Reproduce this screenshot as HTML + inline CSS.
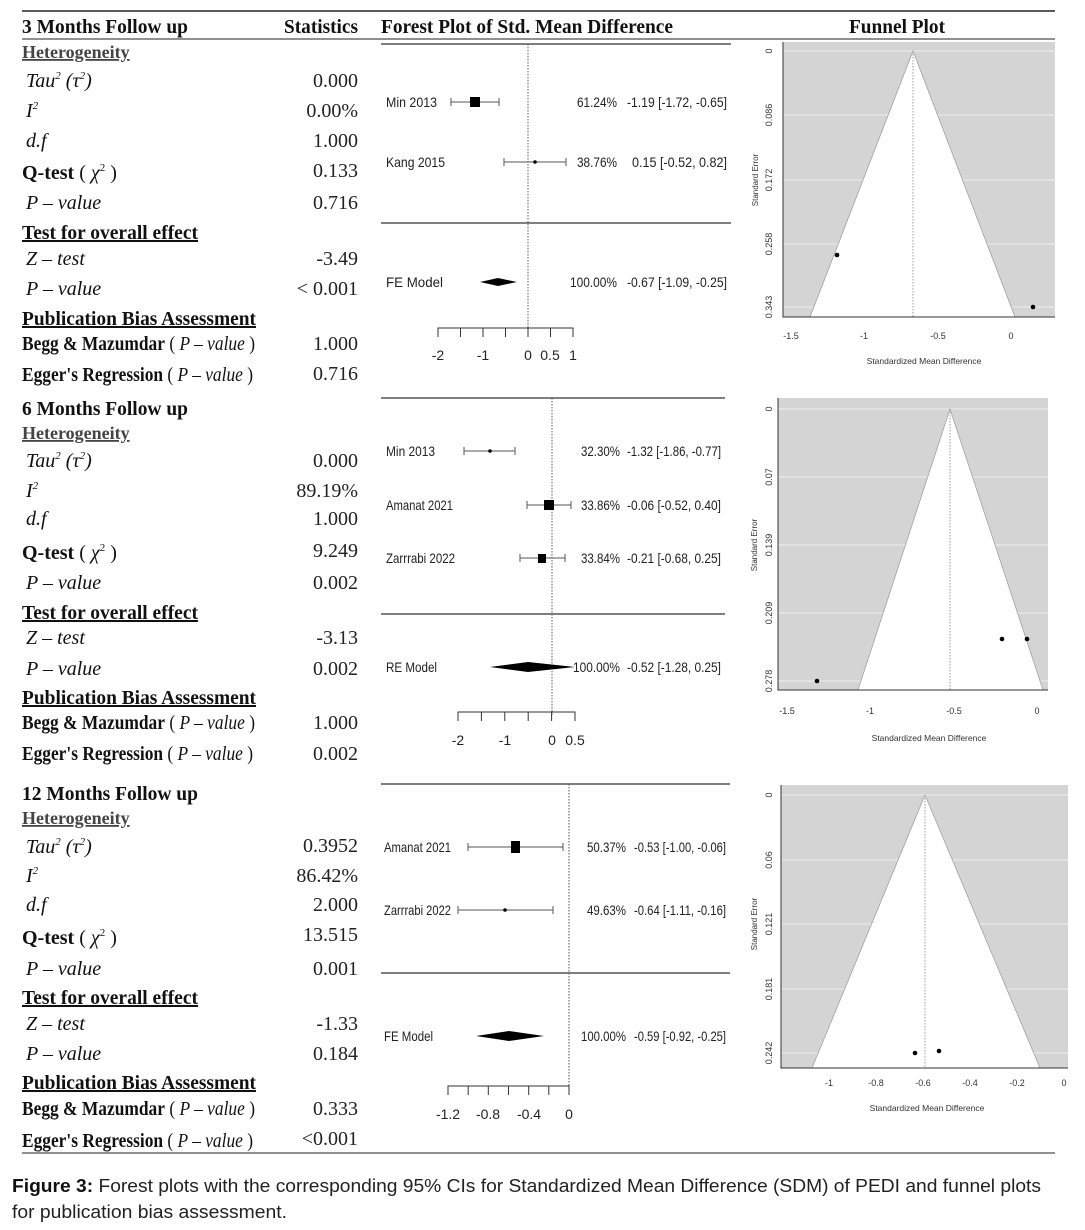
<!DOCTYPE html>
<html><head><meta charset="utf-8"><style>
html,body{margin:0;padding:0;background:#fff}
svg{display:block}
.s{font-family:"Liberation Serif",serif;font-size:20px;fill:#111}
.b{font-weight:bold}
.i{font-style:italic}
.v{font-family:"Liberation Serif",serif;font-size:20px;fill:#222;text-anchor:end}
.f{font-family:"Liberation Sans",sans-serif;font-size:14px;fill:#222}
.e{text-anchor:end}
.t{font-family:"Liberation Sans",sans-serif;font-size:9px;fill:#333}
.cap{font-family:"Liberation Sans",sans-serif;font-size:18px;fill:#222}
</style></head><body>
<svg width="1085" height="1230" viewBox="0 0 1085 1230" xmlns="http://www.w3.org/2000/svg">
<rect width="1085" height="1230" fill="#fff"/>
<line x1="22" y1="11" x2="1055" y2="11" stroke="#222" stroke-width="1.5"/>
<line x1="22" y1="39" x2="1055" y2="39" stroke="#222" stroke-width="1"/>
<text x="22" y="33" class="s b" textLength="166" lengthAdjust="spacingAndGlyphs">3 Months Follow up</text>
<text x="284" y="33" class="s b" textLength="74" lengthAdjust="spacingAndGlyphs">Statistics</text>
<text x="381" y="33" class="s b" textLength="292" lengthAdjust="spacingAndGlyphs">Forest Plot of Std. Mean Difference</text>
<text x="849" y="33" class="s b" textLength="96" lengthAdjust="spacingAndGlyphs">Funnel Plot</text>

<!-- Left column section 1 -->
<g>
<text x="22" y="58" class="s b" style="font-size:18px;fill:#444" text-decoration="underline">Heterogeneity</text>
<text x="26" y="87" class="s i">Tau<tspan dy="-8" font-size="11">2</tspan><tspan dy="8"> (</tspan><tspan>τ</tspan><tspan dy="-8" font-size="11">2</tspan><tspan dy="8">)</tspan></text>
<text x="26" y="117" class="s i">I<tspan dy="-8" font-size="11">2</tspan></text>
<text x="26" y="147" class="s i">d.f</text>
<text x="22" y="179" class="s"><tspan class="b">Q-test</tspan> ( <tspan class="i">χ</tspan><tspan dy="-8" font-size="11">2</tspan><tspan dy="8"> )</tspan></text>
<text x="26" y="209" class="s i">P – value</text>
<text x="22" y="239" class="s b" text-decoration="underline" textLength="176" lengthAdjust="spacingAndGlyphs">Test for overall effect</text>
<text x="26" y="265" class="s i">Z – test</text>
<text x="26" y="295" class="s i">P – value</text>
<text x="22" y="325" class="s b" text-decoration="underline" textLength="234" lengthAdjust="spacingAndGlyphs">Publication Bias Assessment</text>
<text x="22" y="350" class="s" textLength="233" lengthAdjust="spacingAndGlyphs"><tspan class="b">Begg &amp; Mazumdar</tspan> ( <tspan class="i">P – value</tspan> )</text>
<text x="22" y="381" class="s" textLength="231" lengthAdjust="spacingAndGlyphs"><tspan class="b">Egger's Regression</tspan> ( <tspan class="i">P – value</tspan> )</text>
<text x="358" y="87" class="v">0.000</text>
<text x="358" y="117" class="v">0.00%</text>
<text x="358" y="147" class="v">1.000</text>
<text x="358" y="177" class="v">0.133</text>
<text x="358" y="209" class="v">0.716</text>
<text x="358" y="265" class="v">-3.49</text>
<text x="358" y="295" class="v">&lt; 0.001</text>
<text x="358" y="350" class="v">1.000</text>
<text x="358" y="380" class="v">0.716</text>
</g>

<!-- section 2 -->
<g>
<text x="22" y="415" class="s b" textLength="166" lengthAdjust="spacingAndGlyphs">6 Months Follow up</text>
<text x="22" y="439" class="s b" style="font-size:18px;fill:#444" text-decoration="underline">Heterogeneity</text>
<text x="26" y="467" class="s i">Tau<tspan dy="-8" font-size="11">2</tspan><tspan dy="8"> (</tspan><tspan>τ</tspan><tspan dy="-8" font-size="11">2</tspan><tspan dy="8">)</tspan></text>
<text x="26" y="497" class="s i">I<tspan dy="-8" font-size="11">2</tspan></text>
<text x="26" y="525" class="s i">d.f</text>
<text x="22" y="559" class="s"><tspan class="b">Q-test</tspan> ( <tspan class="i">χ</tspan><tspan dy="-8" font-size="11">2</tspan><tspan dy="8"> )</tspan></text>
<text x="26" y="589" class="s i">P – value</text>
<text x="22" y="619" class="s b" text-decoration="underline" textLength="176" lengthAdjust="spacingAndGlyphs">Test for overall effect</text>
<text x="26" y="644" class="s i">Z – test</text>
<text x="26" y="675" class="s i">P – value</text>
<text x="22" y="704" class="s b" text-decoration="underline" textLength="234" lengthAdjust="spacingAndGlyphs">Publication Bias Assessment</text>
<text x="22" y="729" class="s" textLength="233" lengthAdjust="spacingAndGlyphs"><tspan class="b">Begg &amp; Mazumdar</tspan> ( <tspan class="i">P – value</tspan> )</text>
<text x="22" y="760" class="s" textLength="231" lengthAdjust="spacingAndGlyphs"><tspan class="b">Egger's Regression</tspan> ( <tspan class="i">P – value</tspan> )</text>
<text x="358" y="467" class="v">0.000</text>
<text x="358" y="497" class="v">89.19%</text>
<text x="358" y="525" class="v">1.000</text>
<text x="358" y="557" class="v">9.249</text>
<text x="358" y="589" class="v">0.002</text>
<text x="358" y="644" class="v">-3.13</text>
<text x="358" y="675" class="v">0.002</text>
<text x="358" y="729" class="v">1.000</text>
<text x="358" y="760" class="v">0.002</text>
</g>

<!-- section 3 -->
<g>
<text x="22" y="800" class="s b" textLength="176" lengthAdjust="spacingAndGlyphs">12 Months Follow up</text>
<text x="22" y="824" class="s b" style="font-size:18px;fill:#444" text-decoration="underline">Heterogeneity</text>
<text x="26" y="853" class="s i">Tau<tspan dy="-8" font-size="11">2</tspan><tspan dy="8"> (</tspan><tspan>τ</tspan><tspan dy="-8" font-size="11">2</tspan><tspan dy="8">)</tspan></text>
<text x="26" y="882" class="s i">I<tspan dy="-8" font-size="11">2</tspan></text>
<text x="26" y="911" class="s i">d.f</text>
<text x="22" y="944" class="s"><tspan class="b">Q-test</tspan> ( <tspan class="i">χ</tspan><tspan dy="-8" font-size="11">2</tspan><tspan dy="8"> )</tspan></text>
<text x="26" y="975" class="s i">P – value</text>
<text x="22" y="1004" class="s b" text-decoration="underline" textLength="176" lengthAdjust="spacingAndGlyphs">Test for overall effect</text>
<text x="26" y="1030" class="s i">Z – test</text>
<text x="26" y="1060" class="s i">P – value</text>
<text x="22" y="1089" class="s b" text-decoration="underline" textLength="234" lengthAdjust="spacingAndGlyphs">Publication Bias Assessment</text>
<text x="22" y="1115" class="s" textLength="233" lengthAdjust="spacingAndGlyphs"><tspan class="b">Begg &amp; Mazumdar</tspan> ( <tspan class="i">P – value</tspan> )</text>
<text x="22" y="1147" class="s" textLength="231" lengthAdjust="spacingAndGlyphs"><tspan class="b">Egger's Regression</tspan> ( <tspan class="i">P – value</tspan> )</text>
<text x="358" y="852" class="v">0.3952</text>
<text x="358" y="882" class="v">86.42%</text>
<text x="358" y="911" class="v">2.000</text>
<text x="358" y="941" class="v">13.515</text>
<text x="358" y="975" class="v">0.001</text>
<text x="358" y="1030" class="v">-1.33</text>
<text x="358" y="1060" class="v">0.184</text>
<text x="358" y="1115" class="v">0.333</text>
<text x="358" y="1145" class="v">&lt;0.001</text>
</g>
<line x1="22" y1="1153" x2="1055" y2="1153" stroke="#222" stroke-width="1"/>

<!-- Forest 1 -->
<g stroke="#555" fill="none">
<line x1="381" y1="44" x2="731" y2="44" stroke-width="1.5"/>
<line x1="381" y1="223" x2="731" y2="223" stroke-width="1.5"/>
<line x1="528" y1="44" x2="528" y2="328" stroke-dasharray="1.5,1.5" stroke-width="1"/>
<line x1="451" y1="102" x2="499" y2="102"/><line x1="451" y1="98" x2="451" y2="106"/><line x1="499" y1="98" x2="499" y2="106"/>
<line x1="504" y1="162" x2="566" y2="162"/><line x1="504" y1="158" x2="504" y2="166"/><line x1="566" y1="158" x2="566" y2="166"/>
<path d="M438 337V328H573V337M460.5 328V337M483 328V337M505.5 328V337M528 328V337M550.5 328V337" stroke="#333"/>
</g>
<rect x="470" y="97" width="10" height="10" fill="#000"/>
<circle cx="535" cy="162" r="1.8" fill="#000"/>
<polygon points="480,282 498,278 517,282 498,286" fill="#000"/>
<text x="386" y="107" class="f" textLength="51" lengthAdjust="spacingAndGlyphs">Min 2013</text>
<text x="386" y="167" class="f" textLength="59" lengthAdjust="spacingAndGlyphs">Kang 2015</text>
<text x="386" y="287" class="f" textLength="57" lengthAdjust="spacingAndGlyphs">FE Model</text>
<text x="577" y="107" class="f" textLength="40" lengthAdjust="spacingAndGlyphs">61.24%</text><text x="627" y="107" class="f" textLength="100" lengthAdjust="spacingAndGlyphs">-1.19 [-1.72, -0.65]</text>
<text x="577" y="167" class="f" textLength="40" lengthAdjust="spacingAndGlyphs">38.76%</text><text x="632" y="167" class="f" textLength="95" lengthAdjust="spacingAndGlyphs">0.15 [-0.52,  0.82]</text>
<text x="570" y="287" class="f" textLength="47" lengthAdjust="spacingAndGlyphs">100.00%</text><text x="627" y="287" class="f" textLength="100" lengthAdjust="spacingAndGlyphs">-0.67 [-1.09, -0.25]</text>
<g class="f" text-anchor="middle"><text x="438" y="360">-2</text><text x="483" y="360">-1</text><text x="528" y="360">0</text><text x="550" y="360">0.5</text><text x="573" y="360">1</text></g>

<!-- Forest 2 -->
<g stroke="#555" fill="none">
<line x1="381" y1="398" x2="725" y2="398" stroke-width="1.5"/>
<line x1="381" y1="614" x2="725" y2="614" stroke-width="1.5"/>
<line x1="552" y1="398" x2="552" y2="715" stroke-dasharray="1.5,1.5" stroke-width="1"/>
<line x1="464" y1="451" x2="515" y2="451"/><line x1="464" y1="447" x2="464" y2="455"/><line x1="515" y1="447" x2="515" y2="455"/>
<line x1="527" y1="505" x2="571" y2="505"/><line x1="527" y1="501" x2="527" y2="509"/><line x1="571" y1="501" x2="571" y2="509"/>
<line x1="520" y1="558" x2="565" y2="558"/><line x1="520" y1="554" x2="520" y2="562"/><line x1="565" y1="554" x2="565" y2="562"/>
<path d="M458 721V712H575V721M481.4 712V721M504.8 712V721M528.2 712V721M551.6 712V721" stroke="#333"/>
</g>
<circle cx="490" cy="451" r="1.8" fill="#000"/>
<rect x="544" y="500" width="10" height="10" fill="#000"/>
<rect x="538" y="554" width="8" height="9" fill="#000"/>
<polygon points="490,667 528,662 575,667 528,672" fill="#000"/>
<text x="386" y="456" class="f" textLength="49" lengthAdjust="spacingAndGlyphs">Min 2013</text>
<text x="386" y="510" class="f" textLength="67" lengthAdjust="spacingAndGlyphs">Amanat 2021</text>
<text x="386" y="563" class="f" textLength="69" lengthAdjust="spacingAndGlyphs">Zarrrabi 2022</text>
<text x="386" y="672" class="f" textLength="51" lengthAdjust="spacingAndGlyphs">RE Model</text>
<text x="581" y="456" class="f" textLength="39" lengthAdjust="spacingAndGlyphs">32.30%</text><text x="627" y="456" class="f" textLength="94" lengthAdjust="spacingAndGlyphs">-1.32 [-1.86, -0.77]</text>
<text x="581" y="510" class="f" textLength="39" lengthAdjust="spacingAndGlyphs">33.86%</text><text x="627" y="510" class="f" textLength="94" lengthAdjust="spacingAndGlyphs">-0.06 [-0.52,  0.40]</text>
<text x="581" y="563" class="f" textLength="39" lengthAdjust="spacingAndGlyphs">33.84%</text><text x="627" y="563" class="f" textLength="94" lengthAdjust="spacingAndGlyphs">-0.21 [-0.68,  0.25]</text>
<text x="573" y="672" class="f" textLength="47" lengthAdjust="spacingAndGlyphs">100.00%</text><text x="627" y="672" class="f" textLength="94" lengthAdjust="spacingAndGlyphs">-0.52 [-1.28,  0.25]</text>
<g class="f" text-anchor="middle"><text x="458" y="745">-2</text><text x="505" y="745">-1</text><text x="552" y="745">0</text><text x="575" y="745">0.5</text></g>

<!-- Forest 3 -->
<g stroke="#555" fill="none">
<line x1="381" y1="784" x2="730" y2="784" stroke-width="1.5"/>
<line x1="381" y1="973" x2="730" y2="973" stroke-width="1.5"/>
<line x1="569" y1="784" x2="569" y2="1087" stroke-dasharray="1.5,1.5" stroke-width="1"/>
<line x1="468" y1="847" x2="563" y2="847"/><line x1="468" y1="843" x2="468" y2="851"/><line x1="563" y1="843" x2="563" y2="851"/>
<line x1="458" y1="910" x2="553" y2="910"/><line x1="458" y1="906" x2="458" y2="914"/><line x1="553" y1="906" x2="553" y2="914"/>
<path d="M448 1095V1086H569V1095M468.2 1086V1095M488.3 1086V1095M508.5 1086V1095M528.7 1086V1095M548.8 1086V1095" stroke="#333"/>
</g>
<rect x="511" y="841" width="9" height="12" fill="#000"/>
<circle cx="505" cy="910" r="1.8" fill="#000"/>
<polygon points="476,1036 509,1031 544,1036 509,1041" fill="#000"/>
<text x="384" y="852" class="f" textLength="67" lengthAdjust="spacingAndGlyphs">Amanat 2021</text>
<text x="384" y="915" class="f" textLength="67" lengthAdjust="spacingAndGlyphs">Zarrrabi 2022</text>
<text x="384" y="1041" class="f" textLength="49" lengthAdjust="spacingAndGlyphs">FE Model</text>
<text x="587" y="852" class="f" textLength="39" lengthAdjust="spacingAndGlyphs">50.37%</text><text x="634" y="852" class="f" textLength="92" lengthAdjust="spacingAndGlyphs">-0.53 [-1.00, -0.06]</text>
<text x="587" y="915" class="f" textLength="39" lengthAdjust="spacingAndGlyphs">49.63%</text><text x="634" y="915" class="f" textLength="92" lengthAdjust="spacingAndGlyphs">-0.64 [-1.11, -0.16]</text>
<text x="581" y="1041" class="f" textLength="45" lengthAdjust="spacingAndGlyphs">100.00%</text><text x="634" y="1041" class="f" textLength="92" lengthAdjust="spacingAndGlyphs">-0.59 [-0.92, -0.25]</text>
<g class="f" text-anchor="middle"><text x="448" y="1119">-1.2</text><text x="488" y="1119">-0.8</text><text x="529" y="1119">-0.4</text><text x="569" y="1119">0</text></g>

<!-- Funnel 1 -->
<rect x="783" y="42" width="272" height="275" fill="#d4d4d4"/>
<g stroke="#eee" stroke-width="1"><line x1="783" y1="51" x2="1055" y2="51"/><line x1="783" y1="115" x2="1055" y2="115"/><line x1="783" y1="180" x2="1055" y2="180"/><line x1="783" y1="244" x2="1055" y2="244"/><line x1="783" y1="307" x2="1055" y2="307"/></g>
<polygon points="913,51 810,317 1015,317" fill="#fff" stroke="#999" stroke-width="0.7"/>
<line x1="913" y1="51" x2="913" y2="317" stroke="#999" stroke-dasharray="1.5,1.5"/>
<path d="M783 42V317H1055" stroke="#333" fill="none"/>
<circle cx="837" cy="255" r="2.3" fill="#000"/><circle cx="1033" cy="307" r="2.3" fill="#000"/>
<g class="t" text-anchor="middle"><text x="791" y="339">-1.5</text><text x="864" y="339">-1</text><text x="938" y="339">-0.5</text><text x="1011" y="339">0</text><text x="924" y="364" font-size="8.5">Standardized Mean Difference</text></g>
<g class="t" text-anchor="middle"><text transform="translate(772,51) rotate(-90)">0</text><text transform="translate(772,115) rotate(-90)">0.086</text><text transform="translate(772,180) rotate(-90)">0.172</text><text transform="translate(772,244) rotate(-90)">0.258</text><text transform="translate(772,307) rotate(-90)">0.343</text><text transform="translate(758,180) rotate(-90)" font-size="8">Standard Error</text></g>

<!-- Funnel 2 -->
<rect x="778" y="398" width="270" height="292" fill="#d4d4d4"/>
<g stroke="#eee"><line x1="778" y1="409" x2="1048" y2="409"/><line x1="778" y1="477" x2="1048" y2="477"/><line x1="778" y1="545" x2="1048" y2="545"/><line x1="778" y1="613" x2="1048" y2="613"/><line x1="778" y1="681" x2="1048" y2="681"/></g>
<polygon points="950,409 858,690 1043,690" fill="#fff" stroke="#999" stroke-width="0.7"/>
<line x1="950" y1="409" x2="950" y2="690" stroke="#999" stroke-dasharray="1.5,1.5"/>
<path d="M778 398V690H1048" stroke="#333" fill="none"/>
<circle cx="817" cy="681" r="2.3" fill="#000"/><circle cx="1002" cy="639" r="2.3" fill="#000"/><circle cx="1027" cy="639" r="2.3" fill="#000"/>
<g class="t" text-anchor="middle"><text x="787" y="714">-1.5</text><text x="870" y="714">-1</text><text x="954" y="714">-0.5</text><text x="1037" y="714">0</text><text x="929" y="741" font-size="8.5">Standardized Mean Difference</text></g>
<g class="t" text-anchor="middle"><text transform="translate(772,409) rotate(-90)">0</text><text transform="translate(772,477) rotate(-90)">0.07</text><text transform="translate(772,545) rotate(-90)">0.139</text><text transform="translate(772,613) rotate(-90)">0.209</text><text transform="translate(772,681) rotate(-90)">0.278</text><text transform="translate(757,545) rotate(-90)" font-size="8">Standard Error</text></g>

<!-- Funnel 3 -->
<rect x="781" y="785" width="287" height="283" fill="#d4d4d4"/>
<g stroke="#eee"><line x1="781" y1="795" x2="1068" y2="795"/><line x1="781" y1="860" x2="1068" y2="860"/><line x1="781" y1="924" x2="1068" y2="924"/><line x1="781" y1="989" x2="1068" y2="989"/><line x1="781" y1="1053" x2="1068" y2="1053"/></g>
<polygon points="925,795 812,1068 1040,1068" fill="#fff" stroke="#999" stroke-width="0.7"/>
<line x1="925" y1="795" x2="925" y2="1068" stroke="#999" stroke-dasharray="1.5,1.5"/>
<path d="M781 785V1068H1068" stroke="#333" fill="none"/>
<circle cx="915" cy="1053" r="2.3" fill="#000"/><circle cx="939" cy="1051" r="2.3" fill="#000"/>
<g class="t" text-anchor="middle"><text x="829" y="1086">-1</text><text x="876" y="1086">-0.8</text><text x="923" y="1086">-0.6</text><text x="970" y="1086">-0.4</text><text x="1017" y="1086">-0.2</text><text x="1064" y="1086">0</text><text x="927" y="1111" font-size="8.5">Standardized Mean Difference</text></g>
<g class="t" text-anchor="middle"><text transform="translate(772,795) rotate(-90)">0</text><text transform="translate(772,860) rotate(-90)">0.06</text><text transform="translate(772,924) rotate(-90)">0.121</text><text transform="translate(772,989) rotate(-90)">0.181</text><text transform="translate(772,1053) rotate(-90)">0.242</text><text transform="translate(757,924) rotate(-90)" font-size="8">Standard Error</text></g>

<!-- caption -->
<text x="12" y="1192" class="cap" textLength="1029" lengthAdjust="spacingAndGlyphs"><tspan font-weight="bold" fill="#111">Figure 3:</tspan> Forest plots with the corresponding 95% CIs for Standardized Mean Difference (SDM) of PEDI and funnel plots</text>
<text x="12" y="1218" class="cap" textLength="275" lengthAdjust="spacingAndGlyphs">for publication bias assessment.</text>
</svg>
</body></html>
